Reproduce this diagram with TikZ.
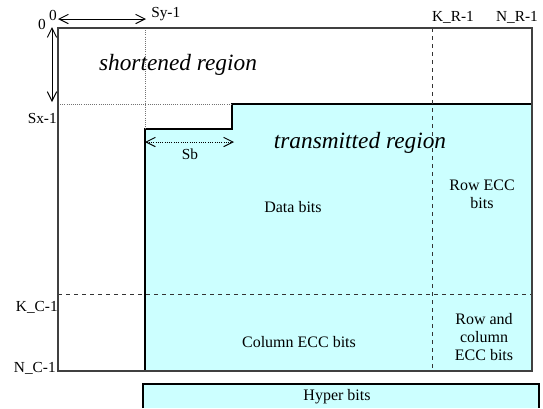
\documentclass[tikz,border=0pt]{standalone}
\usepackage{fontspec}
\setmainfont{Liberation Serif}
\usetikzlibrary{arrows.meta}
\definecolor{txcyan}{HTML}{CCFFFF}

\begin{document}
\begin{tikzpicture}[x=0.75pt,y=-0.75pt]

	\tikzstyle frame lines=[draw=black!75, line width=0.8pt];
	\tikzstyle region=[fill=txcyan, draw=black, line width=0.8pt];
	\tikzstyle marker lines=[black!55, densely dotted, line width=0.6pt];
	\tikzstyle limit lines=[black!80, dashed, line width=0.7pt];
	\tikzstyle index=[font=\fontsize{11.5}{11.5}\selectfont, inner sep=0pt];
	\tikzstyle bits=[font=\fontsize{12}{13.8}\selectfont, align=center, inner sep=0pt];
	\tikzstyle area=[font=\fontsize{17.5}{18}\selectfont\itshape, inner sep=0pt];
	\tikzstyle span=[{Straight Barb[length=7pt,width=7pt]}-{Straight Barb[length=7pt,width=7pt]}, line width=0.7pt];

	\useasboundingbox (0,0) rectangle (543,408);

	% transmitted part and hyper bits
	\filldraw[region] (145,371) -- (145,129) -- (232,129) -- (232,104) -- (532,104) -- (532,371) -- cycle;
	\fill[txcyan] (143,384) rectangle (539,408);
	\draw[region, fill=none] (143,408) -- (143,384) -- (539,384) -- (539,408);

	\draw[marker lines] (145,28) -- (145,129);
	\draw[marker lines] (58,104) -- (232,104);
	\draw[limit lines] (432,28) -- (432,371);
	\draw[limit lines] (58,294) -- (532,294);
	\draw[frame lines] (58,28) rectangle (532,371);

	% index labels
	\node[index] (zeroRow) at (42,24) {0};
	\node[index] (zeroCol) at (53,15) {0};
	\node[index, anchor=west] (syLabel) at (151,14) {Sy-1};
	\node[index, anchor=east] (sxLabel) at (57,118) {Sx-1};
	\node[index] (krLabel) at (453,17) {K\_R-1};
	\node[index] (nrLabel) at (517,17) {N\_R-1};
	\node[index, anchor=east] (kcLabel) at (58,307) {K\_C-1};
	\node[index, anchor=east] (ncLabel) at (56,368) {N\_C-1};
	\node[index] (sbLabel) at (190,154) {Sb};

	% spans
	\coordinate (syStart) at (58,19);
	\coordinate (syEnd) at (146,19);
	\coordinate (sxStart) at (52,27);
	\coordinate (sxEnd) at (52,102);
	\coordinate (sbStart) at (145,142);
	\coordinate (sbEnd) at (234,142);
	\draw[span] (syStart) -- (syEnd);
	\draw[span] (sxStart) -- (sxEnd);
	\draw[span, densely dotted] (sbStart) -- (sbEnd);

	% region texts
	\node[area] (shortened) at (178,65) {shortened region};
	\node[area] (transmitted) at (360,143) {transmitted region};
	\node[bits] (data) at (293,207) {Data bits};
	\node[bits] (rowEcc) at (482,194) {Row ECC\\bits};
	\node[bits] (colEcc) at (299,342) {Column ECC bits};
	\node[bits] (bothEcc) at (484,337) {Row and\\column\\ECC bits};
	\node[bits] (hyper) at (337,397) {Hyper bits};

\end{tikzpicture}
\end{document}
